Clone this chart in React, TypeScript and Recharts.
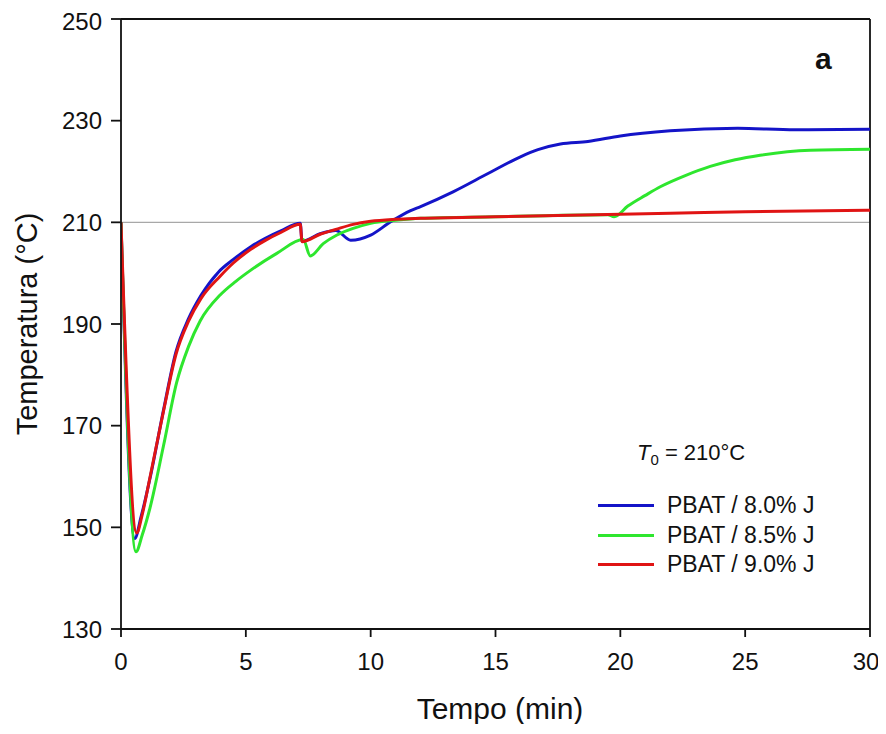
import React from 'react';
import { LineChart, Line, XAxis, YAxis, ReferenceLine } from 'recharts';

const FONT = '"Liberation Sans", Arial, Helvetica, sans-serif';

const xTicks = [0, 5, 10, 15, 20, 25, 30];
const yTicks = [130, 150, 170, 190, 210, 230, 250];

const blueT = [0, 0.55, 0.8, 1.16, 1.7, 2.2, 2.7, 3.2, 3.9, 4.5, 5.2, 5.8, 6.4, 7.18, 7.25, 8.0, 8.6, 9.2, 10.0, 10.8, 11.6, 12.0, 13.3, 14.7, 16.0, 16.7, 17.6, 18.7, 20.0, 22.0, 24.7, 27.0, 30.0];
const blueV = [210, 147.8, 152, 159.6, 173, 184.5, 191, 195.6, 200.2, 202.7, 205.2, 206.9, 208.3, 209.8, 206.3, 207.8, 208.4, 206.5, 207.5, 210.1, 212.3, 213.1, 216, 219.6, 222.9, 224.3, 225.4, 225.9, 227.0, 228.0, 228.5, 228.2, 228.3];

const greenT = [0, 0.6, 0.85, 1.16, 1.7, 2.23, 2.7, 3.17, 3.97, 4.6, 5.2, 6.24, 7.3, 7.58, 8.1, 8.65, 9.3, 10.0, 11.0, 12.0, 15.0, 17.0, 19.5, 19.75, 20.3, 21.0, 21.6, 22.6, 23.6, 24.6, 25.6, 27.6, 30.0];
const greenV = [210, 145.2, 148.5, 153.8, 166, 178.5, 185.5, 190.6, 195.7, 198.4, 200.6, 203.9, 206.6, 203.4, 205.8, 207.5, 208.8, 209.8, 210.4, 210.8, 211.1, 211.3, 211.5, 211.1, 213.2, 215.3, 217, 219.2, 221, 222.3, 223.2, 224.2, 224.4];

const redT = [0, 0.63, 0.85, 1.16, 1.7, 2.2, 2.7, 3.2, 3.97, 4.5, 5.2, 5.8, 6.4, 7.18, 7.25, 8.0, 8.6, 9.3, 10.0, 11.0, 12.0, 15.0, 19.0, 22.0, 25.0, 30.0];
const redV = [210, 148.9, 152.5, 159.8, 172.8, 184, 190.5, 195, 199.4, 202, 204.7, 206.5, 208, 209.6, 206.2, 207.7, 208.6, 209.6, 210.2, 210.6, 210.8, 211.1, 211.5, 211.8, 212.1, 212.4];

const seriesNames = ['PBAT / 8.0% J', 'PBAT / 8.5% J', 'PBAT / 9.0% J'];
const seriesColors = ['#1414c8', '#2ee62e', '#e01414'];

const toRows = (ts: number[], vs: number[]) => ts.map((t, i) => ({ t, v: vs[i] }));
const blueData = toRows(blueT, blueV);
const greenData = toRows(greenT, greenV);
const redData = toRows(redT, redV);

export default function App() {
  return (
    <div style={{ position: 'relative', width: 870, height: 716, fontFamily: FONT, background: '#fff' }}>
      <style>{`html{overflow:hidden;} svg.recharts-surface{overflow:visible;} .recharts-wrapper{overflow:visible;}`}</style>
      <LineChart width={870} height={716} margin={{ top: 11, right: 8, left: 53, bottom: 55 }}>
        <XAxis
          dataKey="t"
          type="number"
          domain={[0, 30]}
          ticks={xTicks}
          allowDataOverflow
          height={40}
          tickSize={8}
          tickMargin={16}
          stroke="#111"
          strokeWidth={1.8}
          tick={{ fill: '#111', fontSize: 24, fontFamily: FONT }}
        />
        <YAxis
          type="number"
          domain={[130, 250]}
          ticks={yTicks}
          allowDataOverflow
          width={60}
          tickSize={10}
          tickMargin={9}
          stroke="#111"
          strokeWidth={1.8}
          tick={{ fill: '#111', fontSize: 24, fontFamily: FONT }}
        />
        <ReferenceLine y={210} stroke="#a8a8a8" strokeWidth={1.2} />
        <ReferenceLine y={250} stroke="#111" strokeWidth={1.8} />
        <ReferenceLine x={30} stroke="#111" strokeWidth={1.8} />
        <Line data={blueData} dataKey="v" name={seriesNames[0]} type="monotone" stroke={seriesColors[0]} strokeWidth={3} dot={false} isAnimationActive={false} />
        <Line data={greenData} dataKey="v" name={seriesNames[1]} type="monotone" stroke={seriesColors[1]} strokeWidth={3} dot={false} isAnimationActive={false} />
        <Line data={redData} dataKey="v" name={seriesNames[2]} type="monotone" stroke={seriesColors[2]} strokeWidth={3} dot={false} isAnimationActive={false} />
      </LineChart>
      <div style={{ position: 'absolute', left: 590, top: 483, width: 260 }}>
        {seriesNames.map((n, i) => (
          <div key={n} style={{ display: 'flex', alignItems: 'center', height: 29.5 }}>
            <div style={{ width: 56, height: 3, background: seriesColors[i], marginRight: 13 }} />
            <span style={{ fontSize: 23, color: '#111', lineHeight: '29px', whiteSpace: 'nowrap' }}>{n}</span>
          </div>
        ))}
      </div>
      <div style={{ position: 'absolute', left: 0, top: 0, width: 40, height: 716, pointerEvents: 'none' }}>
        <div style={{ position: 'absolute', left: 19, top: 316, transform: 'translate(-50%, -50%) rotate(-90deg)', whiteSpace: 'nowrap', fontSize: 29, color: '#111' }}>
          Temperatura (°C)
        </div>
      </div>
      <div style={{ position: 'absolute', left: 492, top: 684, transform: 'translateX(-50%)', whiteSpace: 'nowrap', fontSize: 30, color: '#111', lineHeight: '34px' }}>
        Tempo (min)
      </div>
      <div style={{ position: 'absolute', left: 807, top: 34, fontSize: 30, fontWeight: 'bold', color: '#111', lineHeight: '34px' }}>
        a
      </div>
      <div style={{ position: 'absolute', left: 629, top: 432, fontSize: 22, color: '#111', whiteSpace: 'nowrap', lineHeight: '26px' }}>
        <i>T</i><sub style={{ fontSize: 15 }}>0</sub> = 210°C
      </div>
    </div>
  );
}
